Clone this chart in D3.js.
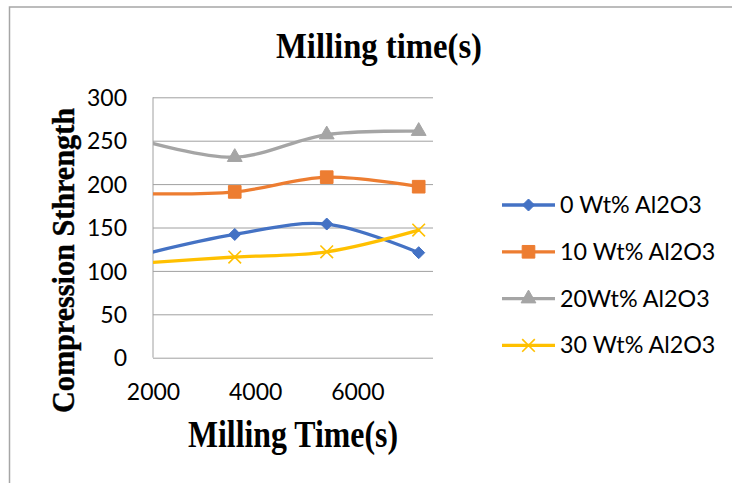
<!DOCTYPE html>
<html>
<head>
<meta charset="utf-8">
<script src="https://cdn.jsdelivr.net/npm/d3@7"></script>
<style>
  html, body { margin: 0; padding: 0; background: #fff; }
  svg { display: block; }
</style>
</head>
<body>
<svg id="chart" width="732" height="483"></svg>
<script>
// Milling time (s) for each measurement
const millingTimes = [1800, 3600, 5400, 7200];

// Compression strength per Al2O3 content
const seriesNames = ["0 Wt% Al2O3", "10 Wt% Al2O3", "20Wt% Al2O3", "30 Wt% Al2O3"];
const strength0 = [119, 142, 154, 121];
const strength10 = [189, 191, 208, 197];
const strength20 = [250, 231, 257, 261];
const strength30 = [109, 116, 122, 147];

const xTicks = [2000, 4000, 6000];
const yTicks = [0, 50, 100, 150, 200, 250, 300];

const seriesColors = ["#4472C4", "#ED7D31", "#A5A5A5", "#FFC000"];
const markerTypes = ["diamond", "square", "triangle", "cross"];

const series = [strength0, strength10, strength20, strength30].map((vals, i) => ({
  name: seriesNames[i],
  color: seriesColors[i],
  marker: markerTypes[i],
  points: vals.map((v, j) => ({ x: millingTimes[j], y: v }))
}));

const svg = d3.select("#chart");
const plot = { left: 153, right: 433, top: 97.3, bottom: 357.7 };

const x = d3.scaleLinear().domain([2000, 7480]).range([plot.left, plot.right]);
const y = d3.scaleLinear().domain([0, 300]).range([plot.bottom, plot.top]);

// outer frame (left and top edges)
svg.append("path")
  .attr("d", "M9.5,483 L9.5,7 L732,7")
  .attr("fill", "none").attr("stroke", "#a6a6a6").attr("stroke-width", 1.5);

// horizontal gridlines
const gridAxis = d3.axisLeft(y).tickValues(yTicks).tickSize(-(plot.right - plot.left)).tickFormat("");
const grid = svg.append("g").attr("transform", `translate(${plot.left},0)`).call(gridAxis);
grid.select(".domain").remove();
grid.selectAll(".tick line").attr("stroke", "#a0a0a0").attr("stroke-width", 1);

// vertical axis line
svg.append("line")
  .attr("x1", plot.left).attr("x2", plot.left)
  .attr("y1", plot.top).attr("y2", plot.bottom)
  .attr("stroke", "#a0a0a0").attr("stroke-width", 1);

// y tick labels
const yAxis = d3.axisLeft(y).tickValues(yTicks).tickSize(0).tickPadding(26);
const yg = svg.append("g").attr("transform", `translate(${plot.left},0)`).call(yAxis);
yg.select(".domain").remove();
yg.selectAll("text")
  .attr("font-family", "Lato, 'Noto Sans', sans-serif")
  .attr("font-size", 23).attr("fill", "#000").attr("dy", "0.36em");

// x tick labels
const xAxis = d3.axisBottom(x).tickValues(xTicks).tickSize(0).tickPadding(0).tickFormat(d3.format("d"));
const xg = svg.append("g").attr("transform", `translate(0,${plot.bottom})`).call(xAxis);
xg.select(".domain").remove();
xg.selectAll("text")
  .attr("font-family", "Lato, 'Noto Sans', sans-serif")
  .attr("font-size", 23).attr("fill", "#000")
  .attr("dy", null).attr("y", 42);

// clip region for the curves
svg.append("defs").append("clipPath").attr("id", "plotClip")
  .append("rect")
  .attr("x", plot.left).attr("y", plot.top - 20)
  .attr("width", plot.right - plot.left + 20).attr("height", plot.bottom - plot.top + 40);

const line = d3.line()
  .x(d => x(d.x)).y(d => y(d.y))
  .curve(d3.curveCatmullRom.alpha(0));

function drawMarker(sel, type, color) {
  if (type === "cross") {
    const s = 6.3;
    sel.append("path")
      .attr("d", `M${-s},${-s}L${s},${s}M${-s},${s}L${s},${-s}`)
      .attr("stroke", color).attr("stroke-width", 1.6).attr("fill", "none");
  } else if (type === "diamond") {
    const s = 6;
    sel.append("path")
      .attr("d", `M0,${-s}L${s},0L0,${s}L${-s},0Z`)
      .attr("fill", color).attr("stroke", color).attr("stroke-width", 1);
  } else if (type === "square") {
    sel.append("path")
      .attr("d", d3.symbol().type(d3.symbolSquare).size(160)())
      .attr("fill", color).attr("stroke", color).attr("stroke-width", 1);
  } else {
    sel.append("path")
      .attr("d", d3.symbol().type(d3.symbolTriangle).size(95)())
      .attr("fill", color).attr("stroke", color).attr("stroke-width", 1);
  }
}

const lines = svg.append("g").attr("clip-path", "url(#plotClip)");
series.forEach(s => {
  lines.append("path")
    .datum(s.points)
    .attr("d", line)
    .attr("fill", "none")
    .attr("stroke", s.color)
    .attr("stroke-width", 3.3)
    .attr("stroke-linecap", "round");
});

series.forEach(s => {
  s.points.filter(p => p.x >= 2000).forEach(p => {
    const g = svg.append("g").attr("transform", `translate(${x(p.x)},${y(p.y)})`);
    drawMarker(g, s.marker, s.color);
  });
});

// legend
const legend = svg.append("g");
series.forEach((s, i) => {
  const ly = 205 + i * 46.8;
  legend.append("line")
    .attr("x1", 502).attr("x2", 555).attr("y1", ly).attr("y2", ly)
    .attr("stroke", s.color).attr("stroke-width", 3.3);
  drawMarker(legend.append("g").attr("transform", `translate(528.5,${ly})`), s.marker, s.color);
  legend.append("text")
    .attr("x", 560).attr("y", ly + 8)
    .attr("font-family", "Lato, 'Noto Sans', sans-serif")
    .attr("font-size", 23.3).attr("fill", "#000")
    .text(s.name);
});

// chart title
svg.append("text")
  .attr("x", 379).attr("y", 58)
  .attr("text-anchor", "middle")
  .attr("font-family", "'Liberation Serif', 'Times New Roman', serif")
  .attr("font-weight", "bold").attr("font-size", 35)
  .attr("textLength", 206).attr("lengthAdjust", "spacingAndGlyphs")
  .text("Milling time(s)");

// x axis title
svg.append("text")
  .attr("x", 293).attr("y", 447)
  .attr("text-anchor", "middle")
  .attr("font-family", "'Liberation Serif', 'Times New Roman', serif")
  .attr("font-weight", "bold").attr("font-size", 37)
  .attr("textLength", 210).attr("lengthAdjust", "spacingAndGlyphs")
  .text("Milling Time(s)");

// y axis title
svg.append("text")
  .attr("transform", "translate(73.5,260.5) rotate(-90)")
  .attr("text-anchor", "middle")
  .attr("font-family", "'Liberation Serif', 'Times New Roman', serif")
  .attr("font-weight", "bold").attr("font-size", 31)
  .attr("stroke", "#000").attr("stroke-width", 0.4)
  .attr("textLength", 305).attr("lengthAdjust", "spacingAndGlyphs")
  .text("Compression Sthrength");
</script>
</body>
</html>
